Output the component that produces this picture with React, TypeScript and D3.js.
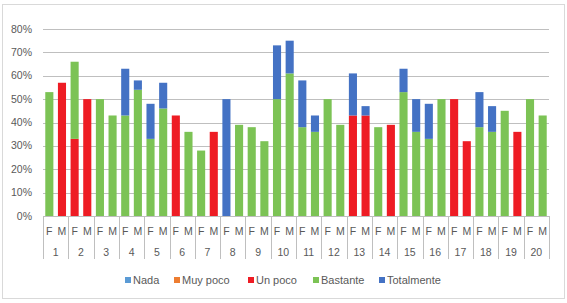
import React from "react";
import * as d3 from "d3";

const groups = ["1","2","3","4","5","6","7","8","9","10","11","12","13","14","15","16","17","18","19","20"];
const sexes = ["F", "M"];
const seriesNames = ["Nada", "Muy poco", "Un poco", "Bastante", "Totalmente"];
const seriesColors = ["#5B9BD5", "#ED7D31", "#EE1C24", "#7CC355", "#4472C4"];
// values per bar (F,M for each group), in percent
const nada = new Array(40).fill(0);
const muyPoco = new Array(40).fill(0);
const unPoco = [0,57, 33,50, 0,0, 0,0, 0,0, 43,0, 0,36, 0,0, 0,0, 0,0, 0,0, 0,0, 43,43, 0,39, 0,0, 0,0, 50,32, 0,0, 0,36, 0,0];
const bastante = [53,0, 33,0, 50,43, 43,54, 33,46, 0,36, 28,0, 0,39, 38,32, 50,61, 38,36, 50,39, 0,0, 38,0, 53,36, 33,50, 0,0, 38,36, 45,0, 50,43];
const totalmente = [0,0, 0,0, 0,0, 20,4, 15,11, 0,0, 0,0, 50,0, 0,0, 23,14, 20,7, 0,0, 18,4, 0,0, 10,14, 15,0, 0,0, 15,11, 0,0, 0,0];
const yTicks = [0,10,20,30,40,50,60,70,80];

const W = 567, H = 303;
const left = 43, right = 549, top = 29, bottom = 216;
const font = "'Liberation Sans', Arial, sans-serif";
const textColor = "#595959";

export default function App() {
  const x0 = d3.scaleBand().domain(groups).range([left, right]).paddingInner(0).paddingOuter(0);
  const x1 = d3.scaleBand().domain(sexes).range([0, x0.bandwidth()]).paddingInner(0.36).paddingOuter(0.18);
  const y = d3.scaleLinear().domain([0, 80]).range([bottom, top]);
  const series = [nada, muyPoco, unPoco, bastante, totalmente];
  const rows = groups.flatMap((g, gi) => sexes.map((s, si) => {
    const idx = gi * 2 + si;
    const r: any = { g, s };
    seriesNames.forEach((n, k) => (r[n] = series[k][idx]));
    return r;
  }));
  const stacked = d3.stack().keys(seriesNames)(rows as any);
  const legendX = [125, 174, 248, 313, 379];
  return (
    <svg width={W} height={H} style={{ position: "absolute", left: 0, top: 0, fontFamily: font }}>
      <rect x={0} y={0} width={W} height={H} fill="#fff" />
      <rect x={2.5} y={4.5} width={562} height={294} fill="#fff" stroke="#D9D9D9" strokeWidth={1} />
      {yTicks.map(t => (
        <g key={t}>
          {t > 0 && <line x1={left} x2={right} y1={Math.round(y(t)) + 0.5} y2={Math.round(y(t)) + 0.5} stroke="#BFBFBF" strokeWidth={1} />}
          <text x={32} y={y(t) + 3.5} textAnchor="end" fontSize={10.5} fill={textColor}>{t}%</text>
        </g>
      ))}
      {stacked.map((layer, k) => (
        <g key={k} fill={seriesColors[k]}>
          {layer.map((d: any, i) => {
            const r = rows[i];
            const h = y(d[0]) - y(d[1]);
            if (h <= 0) return null;
            return <rect key={i} x={(x0(r.g) as number) + (x1(r.s) as number)} y={y(d[1])} width={x1.bandwidth()} height={h} />;
          })}
        </g>
      ))}
      <line x1={left} x2={right} y1={bottom + 0.5} y2={bottom + 0.5} stroke="#BFBFBF" />
      {[...groups.map(g => x0(g) as number), right].map((xv, i) => (
        <line key={i} x1={Math.round(xv) + 0.5} x2={Math.round(xv) + 0.5} y1={bottom} y2={259} stroke="#BFBFBF" />
      ))}
      {groups.map(g => (
        <g key={g}>
          {sexes.map(s => (
            <text key={s} x={(x0(g) as number) + (x1(s) as number) + x1.bandwidth() / 2} y={235} textAnchor="middle" fontSize={10.5} fill={textColor}>{s}</text>
          ))}
          <text x={(x0(g) as number) + x0.bandwidth() / 2} y={256} textAnchor="middle" fontSize={10.5} fill={textColor}>{g}</text>
        </g>
      ))}
      {seriesNames.map((n, k) => (
        <g key={n}>
          <rect x={legendX[k]} y={277} width={6} height={6} fill={seriesColors[k]} />
          <text x={legendX[k] + 8} y={284} fontSize={11} fill={textColor}>{n}</text>
        </g>
      ))}
    </svg>
  );
}
